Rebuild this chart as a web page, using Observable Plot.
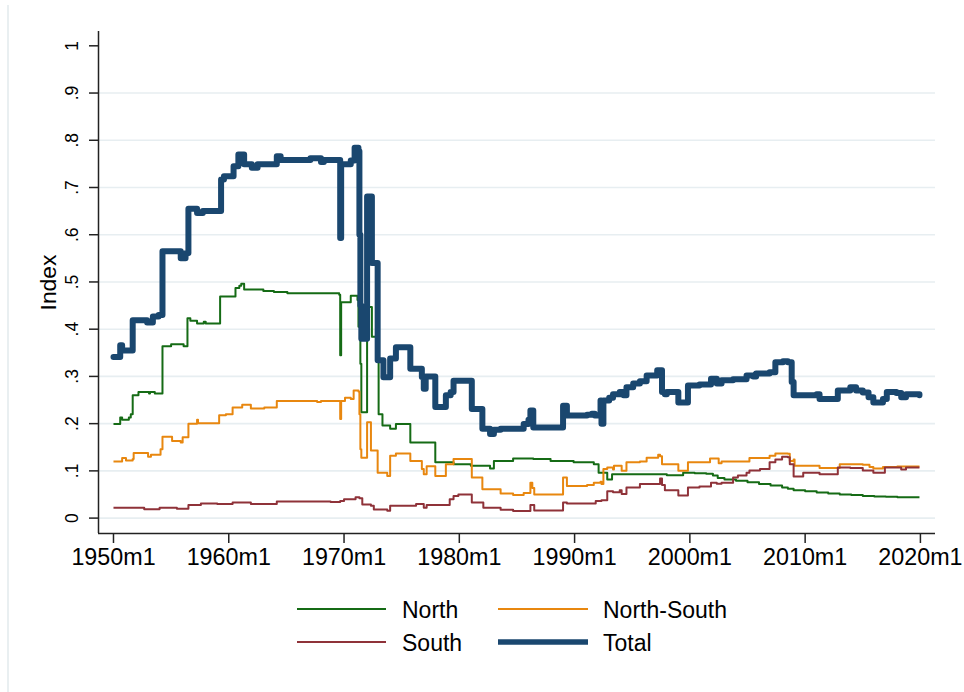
<!DOCTYPE html>
<html><head><meta charset="utf-8">
<script src="https://cdn.jsdelivr.net/npm/d3@7"></script>
<script src="https://cdn.jsdelivr.net/npm/@observablehq/plot@0.6"></script>
<style>
body{margin:0;background:#fff;}
#wrap{position:relative;width:964px;height:692px;overflow:hidden;background:#fff;font-family:"Liberation Sans",Arial,sans-serif;}
#edge{position:absolute;left:7px;top:5px;width:1.5px;height:687px;background:#e9eff1;}
#wrap svg{display:block;}
</style></head><body><div id="wrap"><div id="edge"></div></div>
<script>
// ---------- data (Stata monthly dates, step series) ----------
const totalDates = ["1950m1","1950m8","1950m10","1951m9","1952m12","1953m6","1953m12","1954m4","1955m11","1956m4","1956m7","1957m4","1957m10","1959m5","1959m8","1960m6","1960m11","1961m5","1962m1","1962m7","1964m3","1964m7","1967m2","1968m1","1968m4","1969m9","1969m10","1970m8","1970m12","1971m4","1971m5","1971m6","1971m7","1972m1","1972m6","1972m12","1973m6","1974m1","1974m7","1975m10","1976m10","1976m12","1977m2","1977m12","1978m11","1979m4","1979m7","1981m2","1982m1","1982m9","1983m1","1983m8","1985m8","1986m1","1986m3","1986m6","1989m1","1989m5","1991m2","1991m7","1991m10","1992m4","1992m5","1992m7","1993m1","1993m5","1993m12","1994m4","1994m7","1995m2","1995m9","1996m4","1997m3","1997m8","1997m11","1998m1","1999m1","1999m11","2000m11","2001m11","2002m5","2002m10","2003m10","2004m12","2005m7","2005m10","2006m12","2007m6","2008m2","2008m7","2008m11","2009m1","2011m1","2011m4","2012m11","2013m12","2014m6","2015m1","2015m7","2015m12","2016m10","2017m2","2017m12","2018m5","2018m10","2019m12"];
const totalValues = [0.341,0.366,0.355,0.419,0.414,0.427,0.430,0.565,0.550,0.561,0.655,0.646,0.650,0.717,0.724,0.745,0.770,0.749,0.742,0.749,0.766,0.758,0.762,0.754,0.758,0.593,0.749,0.757,0.784,0.777,0.600,0.450,0.380,0.681,0.540,0.334,0.298,0.338,0.362,0.316,0.299,0.274,0.300,0.235,0.260,0.267,0.291,0.231,0.189,0.178,0.187,0.189,0.199,0.208,0.228,0.192,0.238,0.217,0.219,0.221,0.217,0.249,0.200,0.249,0.255,0.262,0.267,0.260,0.277,0.285,0.290,0.302,0.313,0.267,0.262,0.267,0.245,0.281,0.283,0.295,0.285,0.292,0.294,0.302,0.300,0.306,0.309,0.330,0.332,0.330,0.288,0.260,0.262,0.252,0.270,0.277,0.270,0.266,0.256,0.245,0.252,0.267,0.265,0.256,0.262,0.260];

const northDates = ["1950m1","1950m8","1950m10","1951m5","1951m7","1951m9","1952m3","1953m2","1953m3","1953m8","1954m4","1955m1","1956m2","1956m6","1956m9","1957m4","1957m11","1958m1","1959m4","1960m8","1960m12","1961m2","1961m5","1963m1","1963m12","1965m2","1969m8","1969m9","1969m10","1970m8","1971m3","1971m4","1971m6","1971m7","1972m1","1972m6","1973m1","1973m5","1974m1","1974m7","1975m10","1977m12","1979m7","1981m1","1982m9","1983m1","1984m9","1986m6","1987m12","1989m12","1991m9","1992m2","1992m11","1993m4","1998m1","1999m6","2000m6","2001m6","2002m1","2002m6","2003m1","2004m1","2005m1","2006m1","2007m1","2008m1","2008m7","2009m1","2010m1","2011m1","2012m1","2013m1","2014m1","2015m1","2016m1","2017m1","2018m1","2019m1","2019m12"];
const northValues = [0.199,0.213,0.208,0.213,0.220,0.260,0.267,0.264,0.267,0.264,0.364,0.368,0.364,0.423,0.418,0.412,0.416,0.412,0.469,0.487,0.492,0.496,0.484,0.481,0.479,0.476,0.473,0.345,0.457,0.471,0.462,0.405,0.327,0.224,0.447,0.384,0.220,0.196,0.189,0.199,0.160,0.118,0.114,0.111,0.105,0.121,0.126,0.125,0.121,0.118,0.114,0.096,0.082,0.093,0.091,0.096,0.095,0.094,0.090,0.085,0.082,0.079,0.076,0.072,0.069,0.065,0.062,0.059,0.057,0.054,0.052,0.050,0.049,0.047,0.046,0.045,0.044,0.044,0.044];

const northSouthDates = ["1950m1","1950m10","1951m2","1951m9","1951m10","1953m1","1953m4","1954m2","1954m4","1955m2","1955m11","1956m1","1956m7","1957m4","1957m5","1959m3","1959m10","1960m5","1961m3","1961m12","1963m2","1964m3","1967m9","1968m1","1969m9","1969m10","1970m2","1970m8","1970m11","1971m4","1971m5","1971m6","1971m7","1972m1","1972m5","1972m12","1973m10","1974m1","1974m7","1975m10","1976m10","1976m12","1977m3","1977m12","1978m11","1979m7","1981m2","1982m1","1983m8","1984m9","1985m8","1986m3","1986m5","1986m7","1989m1","1989m5","1991m2","1991m9","1992m4","1992m5","1992m7","1992m11","1993m5","1993m6","1994m2","1994m7","1995m9","1996m4","1997m4","1997m6","1997m8","1999m1","1999m11","2001m10","2002m7","2002m10","2005m3","2006m12","2007m6","2008m7","2008m9","2009m1","2009m2","2011m4","2013m1","2015m1","2015m8","2015m12","2016m10","2018m1","2019m12"];
const northSouthValues = [0.120,0.127,0.122,0.125,0.138,0.130,0.134,0.146,0.172,0.163,0.160,0.171,0.200,0.208,0.201,0.218,0.220,0.234,0.240,0.232,0.234,0.248,0.246,0.248,0.210,0.248,0.255,0.252,0.270,0.268,0.220,0.146,0.128,0.203,0.143,0.096,0.089,0.132,0.137,0.121,0.104,0.093,0.110,0.089,0.114,0.125,0.086,0.061,0.052,0.049,0.053,0.075,0.064,0.050,0.086,0.068,0.070,0.075,0.077,0.072,0.104,0.107,0.103,0.111,0.100,0.118,0.120,0.128,0.134,0.131,0.114,0.100,0.118,0.126,0.116,0.120,0.127,0.132,0.137,0.136,0.121,0.124,0.111,0.106,0.114,0.113,0.108,0.105,0.108,0.109,0.109];

const southDates = ["1950m1","1952m9","1954m1","1955m7","1956m7","1957m8","1959m1","1960m5","1961m12","1964m3","1968m11","1969m9","1970m1","1971m1","1971m5","1971m8","1972m5","1972m8","1973m10","1974m1","1976m4","1976m12","1977m3","1979m3","1979m7","1979m12","1981m2","1982m2","1983m8","1984m9","1986m3","1986m7","1989m1","1989m5","1991m11","1992m5","1992m11","1993m5","1993m12","1994m2","1994m7","1995m9","1997m6","1997m8","1997m11","1999m1","1999m11","2000m11","2001m11","2002m5","2002m10","2003m10","2004m3","2004m12","2005m3","2006m2","2006m12","2007m6","2008m1","2008m7","2008m9","2009m1","2009m11","2011m4","2012m11","2013m12","2015m1","2015m12","2016m12","2018m5","2018m10","2019m12"];
const southValues = [0.022,0.019,0.022,0.020,0.028,0.031,0.030,0.033,0.030,0.035,0.034,0.036,0.040,0.044,0.042,0.029,0.026,0.018,0.0155,0.026,0.0296,0.022,0.028,0.040,0.047,0.050,0.033,0.022,0.0176,0.015,0.028,0.016,0.033,0.031,0.036,0.038,0.057,0.055,0.059,0.051,0.065,0.072,0.084,0.070,0.059,0.048,0.065,0.067,0.075,0.073,0.075,0.086,0.090,0.096,0.101,0.104,0.118,0.124,0.130,0.129,0.114,0.088,0.096,0.093,0.107,0.106,0.101,0.096,0.107,0.103,0.107,0.107];

const seriesNames = ["North","North-South","South","Total"];
const seriesColors = ["#156b15","#e8870f","#8f3239","#1a476f"];
const seriesWidths = [2,2,2,6];
const xTickLabels = ["1950m1","1960m1","1970m1","1980m1","1990m1","2000m1","2010m1","2020m1"];
const yTicks = [0,0.1,0.2,0.3,0.4,0.5,0.6,0.7,0.8,0.9,1];
const yTitle = "Index";

// ---------- helpers ----------
const toMonth = s => { const [y,m] = s.split("m").map(Number); return (y-1950)*12 + (m-1); };
const build = (dates, vals, name) => dates.map((d,i) => ({t: toMonth(d), v: vals[i], s: name}));
const series = [
  build(northDates, northValues, "North"),
  build(northSouthDates, northSouthValues, "North-South"),
  build(southDates, southValues, "South"),
  build(totalDates, totalValues, "Total")
];
const xTicks = xTickLabels.map(toMonth);
const yFmt = d => d === 0 ? "0" : d === 1 ? "1" : String(d).replace(/^0\./, ".");
const FONT = "Liberation Sans, Arial, Helvetica, sans-serif";

const W = 964, H = 575;
const xDom = [-15.6, 855.7], yDom = [-0.0326, 1.0303];

const chart = Plot.plot({
  width: W, height: H,
  marginLeft: 98, marginRight: 29, marginTop: 31, marginBottom: H - 533,
  style: {fontFamily: FONT, background: "transparent", color: "#000", overflow: "visible"},
  x: {domain: xDom},
  y: {domain: yDom},
  marks: [
    Plot.ruleY(yTicks.slice(0, -1), {stroke: "#e7eef1", strokeWidth: 1.6}),
    ...series.map((data, i) => Plot.line(data, {
      x: "t", y: "v", curve: "step-after",
      stroke: seriesColors[i], strokeWidth: seriesWidths[i],
      strokeLinejoin: "round", strokeLinecap: i === 3 ? "round" : "butt"
    })),
    Plot.ruleX([xDom[0]], {stroke: "#222", strokeWidth: 1.5}),
    Plot.ruleY([yDom[0]], {stroke: "#222", strokeWidth: 1.5}),
    Plot.axisX(xTicks, {tickSize: 10, tickPadding: 5, fontSize: 23.3, stroke: "#222", strokeWidth: 1.5,
      tickFormat: (d, i) => xTickLabels[i], label: null}),
    Plot.axisY(yTicks, {tickSize: 9, tickFormat: () => "", stroke: "#222", strokeWidth: 1.5, label: null}),
    Plot.text(yTicks, {y: d => d, text: yFmt, frameAnchor: "left", dx: -21, rotate: -90,
      textAnchor: "middle", lineAnchor: "bottom", fontSize: 17.5, fill: "#000"}),
    Plot.text([yTitle], {frameAnchor: "left", dx: -43, rotate: -90, textAnchor: "middle",
      lineAnchor: "bottom", fontSize: 22.8, fill: "#000"})
  ]
});
document.getElementById("wrap").appendChild(chart);

// ---------- legend (below the plot) ----------
const leg = d3.create("svg").attr("width", W).attr("height", 692 - H)
  .style("font-family", FONT).style("display", "block");
const legPos = [
  {x1: 297, x2: 386, tx: 402, ly: 34, by: 42.7},
  {x1: 498, x2: 588, tx: 603, ly: 34, by: 42.7},
  {x1: 297, x2: 386, tx: 402, ly: 67, by: 76},
  {x1: 498, x2: 588, tx: 603, ly: 67, by: 76}
];
seriesNames.forEach((name, i) => {
  const p = legPos[i];
  leg.append("line").attr("x1", p.x1).attr("x2", p.x2).attr("y1", p.ly).attr("y2", p.ly)
    .attr("stroke", seriesColors[i]).attr("stroke-width", i === 3 ? 5.5 : 2.2);
  leg.append("text").attr("x", p.tx).attr("y", p.by).attr("font-size", 23).attr("fill", "#000").text(name);
});
document.getElementById("wrap").appendChild(leg.node());
</script></body></html>
